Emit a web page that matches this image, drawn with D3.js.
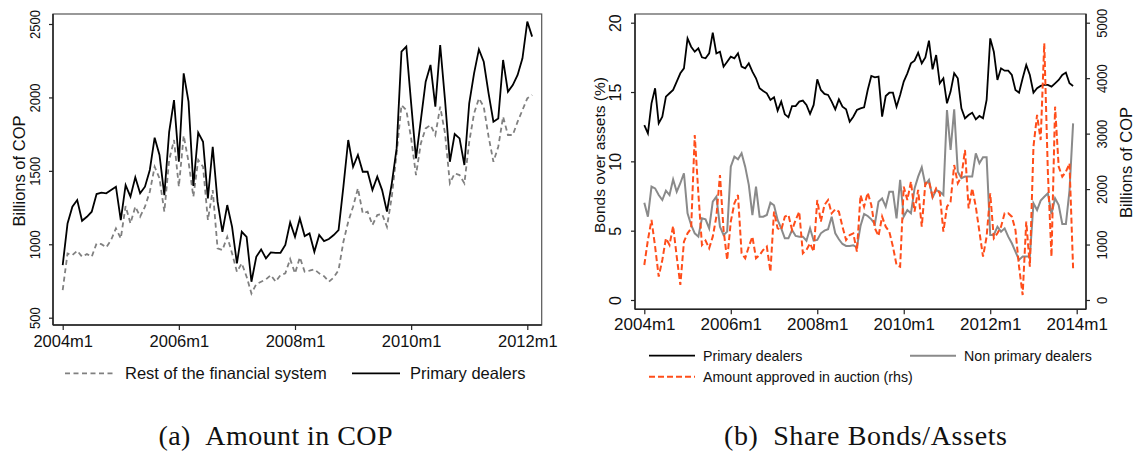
<!DOCTYPE html>
<html>
<head>
<meta charset="utf-8">
<script src="https://cdn.jsdelivr.net/npm/d3@7"></script>
<style>
  html, body { margin: 0; padding: 0; background: #fff; }
  svg { display: block; font-family: "Liberation Sans", Arial, sans-serif; }
</style>
</head>
<body>
<svg id="chart" width="1135" height="453"></svg>
<script>
// Monthly series; the first observation of every series is 2004m1.
const startYear = 2004;

// (a) Amount in COP, billions, 2004m1-2012m2
const amountPrimary = [
  858, 1142, 1256, 1301, 1160, 1187, 1222, 1342, 1351, 1347,
  1369, 1392, 1165, 1403, 1324, 1456, 1347, 1392, 1506, 1726,
  1608, 1335, 1766, 1982, 1562, 2164, 1971, 1397, 1760, 1698,
  1313, 1664, 1290, 1085, 1267, 1119, 870, 1085, 1051, 745,
  915, 965, 904, 945, 942, 942, 995, 1149, 1051, 1176,
  1056, 1074, 949, 1063, 1022, 1036, 1063, 1097, 1392, 1710,
  1528, 1608, 1494, 1494, 1369, 1460, 1369, 1222, 1415, 1653,
  2312, 2346, 1960, 1585, 1846, 2107, 2221, 1937, 2357, 1982,
  1562, 1751, 1721, 1540, 1960, 2164, 2327, 2243, 2028, 1835,
  1857, 2255, 2039, 2084, 2153, 2266, 2516, 2414
];
const amountRest = [
  688, 938, 926, 956, 915, 933, 915, 1006, 1001, 979,
  1029, 1108, 1040, 1260, 1142, 1256, 1188, 1256, 1358, 1528,
  1449, 1222, 1574, 1710, 1392, 1740, 1562, 1324, 1574, 1528,
  1165, 1369, 972, 960, 1051, 938, 813, 870, 779, 665,
  729, 745, 761, 790, 745, 790, 802, 899, 802, 911,
  813, 820, 829, 802, 783, 745, 774, 824, 1017, 1154,
  1256, 1381, 1210, 1222, 1131, 1199, 1206, 1119, 1324, 1619,
  1948, 1914, 1721, 1471, 1687, 1789, 1812, 1744, 1937, 1755,
  1415, 1483, 1471, 1415, 1698, 1891, 1994, 1937, 1733, 1562,
  1664, 1869, 1744, 1744, 1835, 1914, 1994, 2016
];

// (b) Share bonds/assets (%), 2004m1-2013m12
const sharePrimary = [
  12.62, 12.02, 14.18, 15.27, 12.74, 13.22, 14.67, 14.91, 15.15, 15.75,
  16.35, 16.71, 18.87, 18.27, 17.91, 18.15, 17.50, 17.43, 17.79, 19.28,
  17.79, 17.91, 16.83, 17.19, 17.55, 17.43, 17.79, 16.83, 16.71, 17.07,
  16.47, 15.99, 15.27, 15.07, 14.91, 14.43, 14.62, 13.66, 14.31, 13.39,
  13.18, 13.99, 13.99, 14.31, 14.38, 14.07, 13.42, 14.07, 15.92, 15.15,
  14.86, 14.79, 14.31, 13.75, 14.47, 13.94, 13.75, 12.86, 13.22, 13.70,
  13.82, 13.90, 15.15, 16.16, 16.06, 16.11, 13.22, 14.71, 14.95, 14.95,
  13.94, 14.79, 15.75, 16.35, 17.07, 17.26, 17.84, 17.07, 17.50, 18.71,
  16.64, 17.67, 15.63, 15.99, 14.19, 15.03, 16.35, 15.99, 13.82, 13.10,
  13.34, 13.51, 13.03, 13.27, 13.10, 14.43, 18.87, 17.91, 15.87, 16.71,
  16.54, 16.54, 16.23, 15.15, 14.95, 15.99, 16.95, 16.23, 14.95, 15.27,
  15.44, 15.51, 15.51, 15.39, 15.63, 15.87, 16.23, 16.40, 15.63, 15.44
];
const shareNonPrimary = [
  7.02, 6.01, 8.18, 8.05, 7.57, 7.21, 7.89, 7.57, 8.70, 7.81,
  8.42, 9.14, 6.25, 5.41, 4.81, 4.57, 5.89, 5.82, 5.17, 7.09,
  7.45, 5.29, 4.69, 4.93, 9.62, 10.34, 10.15, 10.58, 9.62, 8.30,
  6.13, 8.18, 6.01, 6.01, 6.13, 7.02, 6.83, 5.77, 5.17, 4.45,
  4.45, 5.05, 4.62, 4.57, 4.57, 4.28, 5.17, 4.28, 4.33, 4.81,
  5.00, 5.10, 6.01, 4.81, 4.38, 4.04, 3.90, 3.90, 3.94, 3.80,
  5.34, 6.20, 6.06, 5.82, 5.48, 7.09, 7.33, 6.73, 7.81, 7.81,
  5.89, 8.66, 6.01, 6.49, 6.25, 8.05, 8.90, 9.57, 8.30, 8.66,
  7.40, 7.93, 7.81, 7.57, 13.70, 10.82, 13.75, 9.26, 8.78, 8.90,
  8.90, 8.90, 10.58, 9.86, 10.29, 10.29, 4.69, 4.69, 5.29, 4.93,
  5.17, 4.57, 4.09, 3.49, 2.89, 3.13, 3.13, 3.13, 6.97, 6.49,
  7.17, 7.45, 7.70, 6.20, 7.33, 6.85, 5.48, 5.48, 7.89, 12.74
];
// Amount approved in auction, billions of COP (right-hand axis)
const auctionApproved = [
  631, 1082, 1443, 962, 421, 722, 1112, 992, 1335, 782,
  271, 1052, 1202, 1292, 2975, 1923, 992, 1070, 932, 1142,
  1503, 2254, 1262, 722, 1413, 1743, 1893, 842, 752, 962,
  1142, 752, 812, 902, 962, 511, 1593, 1292, 1262, 1503,
  1533, 1262, 1443, 1593, 842, 902, 1022, 872, 1803, 1413,
  1713, 1803, 1563, 1635, 1593, 1322, 1082, 1172, 1202, 872,
  1893, 1683, 1935, 1713, 1292, 1154, 1503, 1322, 1232, 962,
  631, 601, 2044, 1803, 2134, 1593, 1984, 1322, 2104, 2134,
  1863, 2014, 1923, 1232, 1683, 1773, 2434, 2104, 2224, 2705,
  1653, 2014, 1683, 1232, 782, 1142, 1923, 1112, 1202, 1322,
  1563, 1563, 1503, 1262, 601, 90, 1413, 601, 2765, 3336,
  2885, 4628, 2300, 782, 3486, 2404, 2224, 2314, 2464, 571
];

// Axis ticks
const amountXTicks = ["2004m1", "2006m1", "2008m1", "2010m1", "2012m1"];
const shareXTicks = ["2004m1", "2006m1", "2008m1", "2010m1", "2012m1", "2014m1"];
const amountYTicks = [500, 1000, 1500, 2000, 2500];
const shareYTicks = [0, 5, 10, 15, 20];
const auctionYTicks = [0, 1000, 2000, 3000, 4000, 5000];

const monthIndex = label => {
  const [y, m] = label.split("m").map(Number);
  return (y - startYear) * 12 + (m - 1);
};

const svg = d3.select("#chart");
svg.append("rect").attr("width", 1135).attr("height", 453).attr("fill", "#fff");

const COLORS = { primary: "#000", rest: "#808080", nonPrimary: "#8a8a8a", auction: "#ff4d1a" };

// Plot-region outline plus heavier left/bottom axis lines
function frame(x0, y0, x1, y1) {
  svg.append("rect").attr("x", x0).attr("y", y0).attr("width", x1 - x0).attr("height", y1 - y0)
    .attr("fill", "none").attr("stroke", "#555").attr("stroke-width", 1.2);
  svg.append("line").attr("x1", x0).attr("x2", x0).attr("y1", y0).attr("y2", y1)
    .attr("stroke", "#222").attr("stroke-width", 1.5);
  svg.append("line").attr("x1", x0).attr("x2", x1).attr("y1", y1).attr("y2", y1)
    .attr("stroke", "#222").attr("stroke-width", 1.5);
}

function styleAxis(g) {
  g.select(".domain").remove();
  g.selectAll(".tick line").attr("stroke", "#222").attr("stroke-width", 1.2);
  g.selectAll(".tick text").attr("fill", "#111");
}

// Vertical tick labels, as on the original y axes
function rotateLabels(g, offset, size, squeeze) {
  g.selectAll(".tick text")
    .attr("x", null).attr("dy", null).attr("y", null)
    .attr("text-anchor", "middle")
    .style("font-size", size + "px")
    .attr("transform", `translate(${offset},0) rotate(-90) scale(${squeeze},1)`);
}

function bottomAxis(x, ticks, yPos, size, base) {
  const g = svg.append("g").attr("transform", `translate(0,${yPos})`)
    .call(d3.axisBottom(x).tickValues(ticks.map(monthIndex)).tickFormat((d, i) => ticks[i]).tickSize(5));
  styleAxis(g);
  g.selectAll(".tick text").attr("y", base).attr("dy", 0).style("font-size", size + "px");
  return g;
}

function yTitle(text, cx, cy, size) {
  svg.append("text").attr("transform", `translate(${cx},${cy}) rotate(-90)`)
    .attr("text-anchor", "middle").style("font-size", size + "px").attr("fill", "#111").text(text);
}

// ---------- (a) Amount in COP ----------
const xA = d3.scaleLinear().domain([0, 96]).range([62.7, 527.3]);
const yA = d3.scaleLinear().domain([500, 2500]).range([317.7, 24]);
frame(53, 14, 541.7, 325);

const gAy = svg.append("g").attr("transform", "translate(53,0)")
  .call(d3.axisLeft(yA).tickValues(amountYTicks).tickSize(4).tickFormat(d3.format("d")));
styleAxis(gAy);
rotateLabels(gAy, -13.5, 14, 0.93);
bottomAxis(xA, amountXTicks, 325, 16.5, 22);
yTitle("Billions of COP", 24.5, 171, 16.5);

const lineA = d3.line().x((d, i) => xA(i)).y(d => yA(d));
svg.append("path").datum(amountRest).attr("d", lineA).attr("fill", "none")
  .attr("stroke", COLORS.rest).attr("stroke-width", 1.8).attr("stroke-dasharray", "5,3.5");
svg.append("path").datum(amountPrimary).attr("d", lineA).attr("fill", "none")
  .attr("stroke", COLORS.primary).attr("stroke-width", 1.8).attr("stroke-linejoin", "miter");

// legend (a)
const legA = svg.append("g").style("font-size", "16.5px").attr("fill", "#111");
legA.append("line").attr("x1", 65).attr("x2", 115).attr("y1", 373.3).attr("y2", 373.3)
  .attr("stroke", COLORS.rest).attr("stroke-width", 1.8).attr("stroke-dasharray", "5,3.5");
legA.append("text").attr("x", 125).attr("y", 379.3).text("Rest of the financial system");
legA.append("line").attr("x1", 352).attr("x2", 400).attr("y1", 373.3).attr("y2", 373.3)
  .attr("stroke", COLORS.primary).attr("stroke-width", 1.8);
legA.append("text").attr("x", 410).attr("y", 379.3).text("Primary dealers");

// ---------- (b) Share Bonds/Assets ----------
const xB = d3.scaleLinear().domain([0, 120]).range([644.3, 1076.7]);
const yB = d3.scaleLinear().domain([0, 20]).range([300, 22.7]);
const yB2 = d3.scaleLinear().domain([0, 5000]).range([300, 22.7]);
frame(635, 14, 1086, 309.3);
svg.append("line").attr("x1", 1086).attr("x2", 1086).attr("y1", 14).attr("y2", 309.3)
  .attr("stroke", "#222").attr("stroke-width", 1.5);

const gBy = svg.append("g").attr("transform", "translate(635,0)")
  .call(d3.axisLeft(yB).tickValues(shareYTicks).tickSize(4).tickFormat(d3.format("d")));
styleAxis(gBy);
rotateLabels(gBy, -14.2, 16, 1);

const gBy2 = svg.append("g").attr("transform", "translate(1086,0)")
  .call(d3.axisRight(yB2).tickValues(auctionYTicks).tickSize(4).tickFormat(d3.format("d")));
styleAxis(gBy2);
rotateLabels(gBy2, 20.5, 14, 0.93);

bottomAxis(xB, shareXTicks, 309.3, 17, 20.5);
yTitle("Bonds over assets (%)", 604.5, 155, 15.5);
yTitle("Billions of COP", 1131.5, 162.5, 16.5);

const lineB = d3.line().x((d, i) => xB(i)).y(d => yB(d));
const lineB2 = d3.line().x((d, i) => xB(i)).y(d => yB2(d));
svg.append("path").datum(sharePrimary).attr("d", lineB).attr("fill", "none")
  .attr("stroke", COLORS.primary).attr("stroke-width", 1.8);
svg.append("path").datum(shareNonPrimary).attr("d", lineB).attr("fill", "none")
  .attr("stroke", COLORS.nonPrimary).attr("stroke-width", 2);
svg.append("path").datum(auctionApproved).attr("d", lineB2).attr("fill", "none")
  .attr("stroke", COLORS.auction).attr("stroke-width", 2).attr("stroke-dasharray", "6,3");

// legend (b)
const legB = svg.append("g").style("font-size", "14.2px").attr("fill", "#111");
legB.append("line").attr("x1", 649).attr("x2", 695).attr("y1", 355.7).attr("y2", 355.7)
  .attr("stroke", COLORS.primary).attr("stroke-width", 1.8);
legB.append("text").attr("x", 703).attr("y", 361).text("Primary dealers");
legB.append("line").attr("x1", 910).attr("x2", 956).attr("y1", 355.7).attr("y2", 355.7)
  .attr("stroke", COLORS.nonPrimary).attr("stroke-width", 2);
legB.append("text").attr("x", 964).attr("y", 361).text("Non primary dealers");
legB.append("line").attr("x1", 649).attr("x2", 695).attr("y1", 376.7).attr("y2", 376.7)
  .attr("stroke", COLORS.auction).attr("stroke-width", 2).attr("stroke-dasharray", "6,3");
legB.append("text").attr("x", 703).attr("y", 382).text("Amount approved in auction (rhs)");

// ---------- captions ----------
const caption = (x, label, title, width) => svg.append("text")
  .attr("x", x).attr("y", 445).attr("text-anchor", "middle")
  .attr("textLength", width).attr("lengthAdjust", "spacing")
  .style("font-family", '"Liberation Serif", "DejaVu Serif", serif')
  .style("font-size", "28px").attr("fill", "#111")
  .text(`${label}\u2002${title}`);
caption(275.5, "(a)", "Amount in COP", 234);
caption(865.5, "(b)", "Share Bonds/Assets", 283);
</script>
</body>
</html>
